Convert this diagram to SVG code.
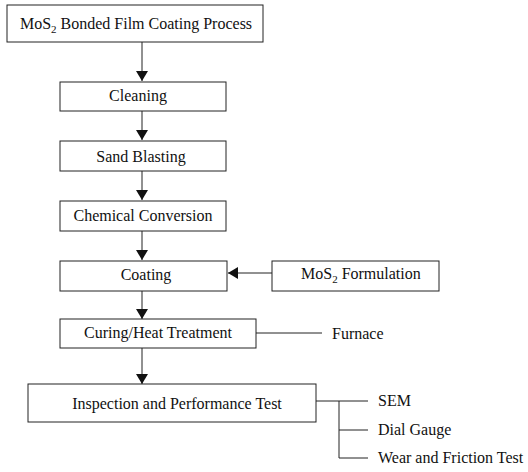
<svg xmlns="http://www.w3.org/2000/svg" width="528" height="472" viewBox="0 0 528 472">
<style>
  .box { fill: #fff; stroke: #222; stroke-width: 1; }
  .lbl { font-family: "Liberation Serif", "Times New Roman", serif; font-size: 16px; fill: #111; }
  .mid { text-anchor: middle; }
  .ln { stroke: #222; stroke-width: 1; fill: none; }
</style>
<defs>
  <marker id="ah" viewBox="0 0 10 12" refX="10" refY="6" markerWidth="10" markerHeight="12" markerUnits="userSpaceOnUse" orient="auto">
    <path d="M0,0 L10,6 L0,12 Z" fill="#111"/>
  </marker>
</defs>
<rect width="528" height="472" fill="#fff"/>
<g id="connectors">
  <line class="ln" x1="142" y1="42" x2="142" y2="81" marker-end="url(#ah)"/>
  <line class="ln" x1="142" y1="111" x2="142" y2="140" marker-end="url(#ah)"/>
  <line class="ln" x1="142" y1="171" x2="142" y2="200" marker-end="url(#ah)"/>
  <line class="ln" x1="142" y1="231" x2="142" y2="260" marker-end="url(#ah)"/>
  <line class="ln" x1="142" y1="291" x2="142" y2="319" marker-end="url(#ah)"/>
  <line class="ln" x1="142" y1="348" x2="142" y2="384" marker-end="url(#ah)"/>
  <line class="ln" x1="272" y1="273" x2="228" y2="273" marker-end="url(#ah)"/>
  <line class="ln" x1="256" y1="333" x2="322" y2="333"/>
  <line class="ln" x1="316" y1="401" x2="368" y2="401"/>
  <polyline class="ln" points="339,401 339,458 368,458"/>
  <line class="ln" x1="339" y1="430" x2="368" y2="430"/>
</g>
<g id="n-title">
  <rect class="box" x="7" y="5" width="256" height="37"/>
  <text class="lbl mid" x="136" y="29">MoS<tspan font-size="11" dy="4">2</tspan><tspan dy="-4"> Bonded Film Coating Process</tspan></text>
</g>
<g id="n-cleaning">
  <rect class="box" x="60" y="82" width="166" height="29"/>
  <text class="lbl mid" x="138" y="101">Cleaning</text>
</g>
<g id="n-sand">
  <rect class="box" x="60" y="141" width="166" height="30"/>
  <text class="lbl mid" x="141" y="162">Sand Blasting</text>
</g>
<g id="n-chem">
  <rect class="box" x="60" y="201" width="166" height="30"/>
  <text class="lbl mid" x="143" y="221">Chemical Conversion</text>
</g>
<g id="n-coating">
  <rect class="box" x="60" y="261" width="167" height="30"/>
  <text class="lbl mid" x="146" y="280">Coating</text>
</g>
<g id="n-formulation">
  <rect class="box" x="272" y="261" width="167" height="30"/>
  <text class="lbl" x="301" y="279">MoS<tspan font-size="11" dy="4">2</tspan><tspan dy="-4"> Formulation</tspan></text>
</g>
<g id="n-curing">
  <rect class="box" x="60" y="319" width="196" height="29"/>
  <text class="lbl mid" x="158" y="338">Curing/Heat Treatment</text>
</g>
<g id="n-furnace">
  <text class="lbl" x="332" y="339">Furnace</text>
</g>
<g id="n-inspection">
  <rect class="box" x="28" y="384" width="288" height="38"/>
  <text class="lbl mid" x="177" y="409">Inspection and Performance Test</text>
</g>
<g id="n-sem">
  <text class="lbl" x="378" y="406">SEM</text>
</g>
<g id="n-dial">
  <text class="lbl" x="378" y="435">Dial Gauge</text>
</g>
<g id="n-wear">
  <text class="lbl" x="378" y="463">Wear and Friction Test</text>
</g>
</svg>
